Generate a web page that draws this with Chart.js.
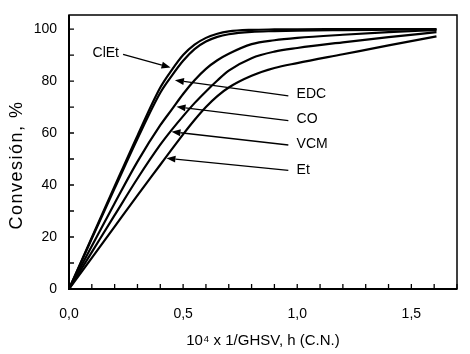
<!DOCTYPE html>
<html>
<head>
<meta charset="utf-8">
<script src="https://cdn.jsdelivr.net/npm/chart.js@4.4.0/dist/chart.umd.min.js"></script>
<style>
  html, body { margin: 0; padding: 0; background: #fff; }
  #contenedor { width: 470px; height: 354px; }
</style>
</head>
<body>
<div id="contenedor"><canvas id="grafica"></canvas></div>
<script>
// 10^4 x 1/GHSV (h, C.N.)
const tiempo = [0, 0.1, 0.2, 0.3, 0.4, 0.45, 0.5, 0.55, 0.6, 0.65, 0.7, 0.8, 0.9, 1.0, 1.2, 1.4, 1.61];

// Conversion, %
const clet = [0, 19.8, 39.5, 59, 77.5, 84.2, 90, 94, 96.6, 98.2, 99.1, 99.7, 99.85, 99.9, 99.95, 100, 100];
const edc  = [0, 19.4, 38.7, 57.8, 75.5, 82, 87.8, 92.3, 95.2, 97, 98, 98.9, 99.2, 99.4, 99.6, 99.75, 99.9];
const co   = [0, 16.5, 33, 49, 63, 69, 75, 80.3, 84.7, 88, 90.5, 94.2, 95.7, 96.6, 97.8, 98.8, 99.6];
const vcm  = [0, 14.2, 28.4, 42.5, 55.5, 61.2, 66.5, 71.5, 76, 80.2, 84, 88.8, 91.3, 92.7, 94.9, 96.9, 98.8];
const et   = [0, 12, 24, 36, 47.8, 53.7, 59.5, 65, 70, 74.2, 77.5, 82, 85, 86.9, 90.3, 93.7, 97.2];

const series = ['ClEt', 'EDC', 'CO', 'VCM', 'Et'];
const valores = [clet, edc, co, vcm, et];

// etiquetas con flecha (en unidades de los ejes)
const notas = [
  { texto: 'ClEt', tx: 0.219, ty: 90.8, alinear: 'right', x0: 0.237, y0: 90.3, x1: 0.445, y1: 85.2 },
  { texto: 'EDC',  tx: 0.997, ty: 75.1, alinear: 'left',  x0: 0.961, y0: 74.3, x1: 0.464, y1: 80.3 },
  { texto: 'CO',   tx: 0.997, ty: 65.5, alinear: 'left',  x0: 0.961, y0: 64.8, x1: 0.471, y1: 70.1 },
  { texto: 'VCM',  tx: 0.997, ty: 55.9, alinear: 'left',  x0: 0.961, y0: 55.4, x1: 0.449, y1: 60.5 },
  { texto: 'Et',   tx: 0.997, ty: 45.6, alinear: 'left',  x0: 0.961, y0: 45.6, x1: 0.427, y1: 50.3 }
];

const tituloY = 'Convesión, %';
const fuente = '"Liberation Sans", Arial, sans-serif';

const marco = {
  id: 'marco',
  afterDatasetsDraw(chart) {
    const { ctx, chartArea: a, scales: { x, y } } = chart;
    ctx.save();
    ctx.strokeStyle = '#000';
    // caja
    ctx.lineWidth = 1.5;
    ctx.strokeRect(a.left, a.top, a.right - a.left, a.bottom - a.top);
    ctx.lineWidth = 2;
    ctx.beginPath();
    ctx.moveTo(a.left, a.top);
    ctx.lineTo(a.left, a.bottom);
    ctx.lineTo(a.right, a.bottom);
    ctx.stroke();
    // marcas hacia dentro
    ctx.lineWidth = 1.3;
    ctx.beginPath();
    x.ticks.forEach(t => {
      const px = x.getPixelForValue(t.value);
      ctx.moveTo(px, a.bottom);
      ctx.lineTo(px, a.bottom - 5);
    });
    y.ticks.forEach(t => {
      if (Math.abs(t.value % 10) > 1e-6) return;
      const py = y.getPixelForValue(t.value);
      ctx.moveTo(a.left, py);
      ctx.lineTo(a.left + 5, py);
    });
    ctx.stroke();

    // flechas y textos
    ctx.fillStyle = '#000';
    ctx.font = '14px ' + fuente;
    ctx.textBaseline = 'middle';
    notas.forEach(n => {
      const x0 = x.getPixelForValue(n.x0), y0 = y.getPixelForValue(n.y0);
      const x1 = x.getPixelForValue(n.x1), y1 = y.getPixelForValue(n.y1);
      const ang = Math.atan2(y1 - y0, x1 - x0);
      const largo = 9, ancho = 3.5;
      const bx = x1 - largo * Math.cos(ang), by = y1 - largo * Math.sin(ang);
      ctx.lineWidth = 1.3;
      ctx.beginPath();
      ctx.moveTo(x0, y0);
      ctx.lineTo(bx, by);
      ctx.stroke();
      ctx.beginPath();
      ctx.moveTo(x1, y1);
      ctx.lineTo(bx + ancho * Math.sin(ang), by - ancho * Math.cos(ang));
      ctx.lineTo(bx - ancho * Math.sin(ang), by + ancho * Math.cos(ang));
      ctx.closePath();
      ctx.fill();
      ctx.textAlign = n.alinear;
      ctx.fillText(n.texto, x.getPixelForValue(n.tx), y.getPixelForValue(n.ty));
    });

    // titulo del eje Y
    ctx.translate(17, (a.top + a.bottom) / 2 + 13);
    ctx.rotate(-Math.PI / 2);
    ctx.font = '18px ' + fuente;
    ctx.textAlign = 'center';
    if ('letterSpacing' in ctx) ctx.letterSpacing = '1.5px';
    ctx.fillText(tituloY, 0, 0);
    ctx.restore();
  }
};

const coma = v => v.toFixed(1).replace('.', ',');

new Chart(document.getElementById('grafica').getContext('2d'), {
  type: 'line',
  data: {
    datasets: series.map((s, i) => ({
      label: s,
      data: tiempo.map((t, j) => ({ x: t, y: valores[i][j] })),
      borderColor: '#000',
      borderWidth: 2.2,
      pointRadius: 0,
      fill: false,
      cubicInterpolationMode: 'monotone'
    }))
  },
  options: {
    responsive: true,
    maintainAspectRatio: false,
    animation: false,
    layout: { padding: { top: 15, right: 13, left: 0, bottom: 0 } },
    plugins: { legend: { display: false }, tooltip: { enabled: false } },
    scales: {
      x: {
        type: 'linear',
        min: 0,
        max: 1.7,
        afterFit(s) { s.height = 65; },
        grid: { display: false },
        border: { display: false },
        ticks: {
          stepSize: 0.1,
          autoSkip: false,
          maxRotation: 0,
          padding: 9,
          color: '#000',
          font: { family: fuente, size: 14 },
          callback(v) {
            return Math.abs(v * 2 - Math.round(v * 2)) < 1e-6 ? coma(v) : '';
          }
        },
        title: {
          display: true,
          text: '10\u2074 x 1/GHSV, h (C.N.)',
          color: '#000',
          font: { family: fuente, size: 15 },
          padding: { top: 0, bottom: 4 }
        }
      },
      y: {
        min: 0,
        max: 105.4,
        afterFit(s) { s.width = 69; },
        grid: { display: false },
        border: { display: false },
        ticks: {
          stepSize: 10,
          includeBounds: false,
          padding: 4,
          color: '#000',
          font: { family: fuente, size: 14 },
          callback(v) {
            return v % 20 === 0 ? String(v) : '';
          }
        },
        title: { display: false }
      }
    }
  },
  plugins: [marco]
});
</script>
</body>
</html>
